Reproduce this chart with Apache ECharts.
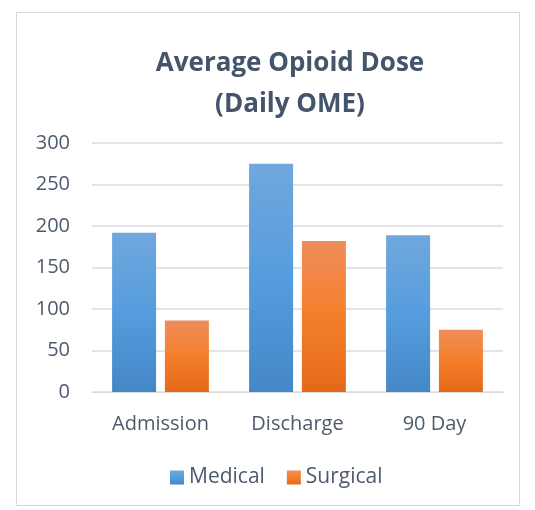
<!DOCTYPE html>
<html><head><meta charset="utf-8">
<script src="https://cdn.jsdelivr.net/npm/echarts@6/dist/echarts.min.js"></script>
<style>html,body{margin:0;padding:0;background:#fff}#c{width:535px;height:510px}</style>
</head><body><div id="c"></div>
<script>
const categories = ['Admission', 'Discharge', '90 Day'];
const medical = [192, 275, 189];
const surgical = [86, 182, 75];
const yTicks = { min: 0, max: 300, interval: 50 };

function grad(top, mid, bot) {
  return new echarts.graphic.LinearGradient(0, 0, 0, 1, [
    { offset: 0, color: top }, { offset: 0.5, color: mid }, { offset: 1, color: bot }
  ]);
}
const font = "'Open Sans', sans-serif";
const textColor = '#4E5A6D';
const chart = echarts.init(document.getElementById('c'), null, { renderer: 'canvas' });
chart.setOption({
  animation: false,
  backgroundColor: '#fff',
  graphic: [{ type: 'rect', shape: { x: 16.5, y: 12.5, width: 503, height: 493 }, style: { fill: 'none', stroke: '#D9D9D9', lineWidth: 1 }, z: -1 }],
  title: {
    text: 'Average Opioid Dose\n(Daily OME)',
    left: 285, top: 38, textAlign: 'center',
    textStyle: { fontFamily: font, fontWeight: 'bold', fontSize: 26, color: '#44546A', lineHeight: 41 }
  },
  legend: {
    top: 462, left: 165, itemWidth: 14, itemHeight: 14, itemGap: 22,
    icon: 'rect',
    textStyle: { fontFamily: font, fontSize: 21, color: textColor },
    data: ['Medical', 'Surgical']
  },
  grid: { left: 92, right: 32, top: 143, bottom: 118 },
  xAxis: {
    type: 'category', data: categories,
    axisLine: { show: true, lineStyle: { color: '#D9D9D9', width: 1 } },
    axisTick: { show: false },
    axisLabel: { fontFamily: font, fontSize: 20, color: textColor, margin: 22 }
  },
  yAxis: {
    type: 'value', min: yTicks.min, max: yTicks.max, interval: yTicks.interval,
    axisLine: { show: false }, axisTick: { show: false },
    axisLabel: { fontFamily: font, fontSize: 20, color: textColor, margin: 22 },
    splitLine: { lineStyle: { color: '#E1E5EB', width: 2 } }
  },
  series: [
    { name: 'Medical', type: 'bar', data: medical, barWidth: 44, barGap: '20%',
      itemStyle: { color: grad('#71A7DD', '#559DDE', '#4487C7') } },
    { name: 'Surgical', type: 'bar', data: surgical, barWidth: 44,
      itemStyle: { color: grad('#F08D5A', '#F47F2B', '#E36918') } }
  ]
});
</script></body></html>
